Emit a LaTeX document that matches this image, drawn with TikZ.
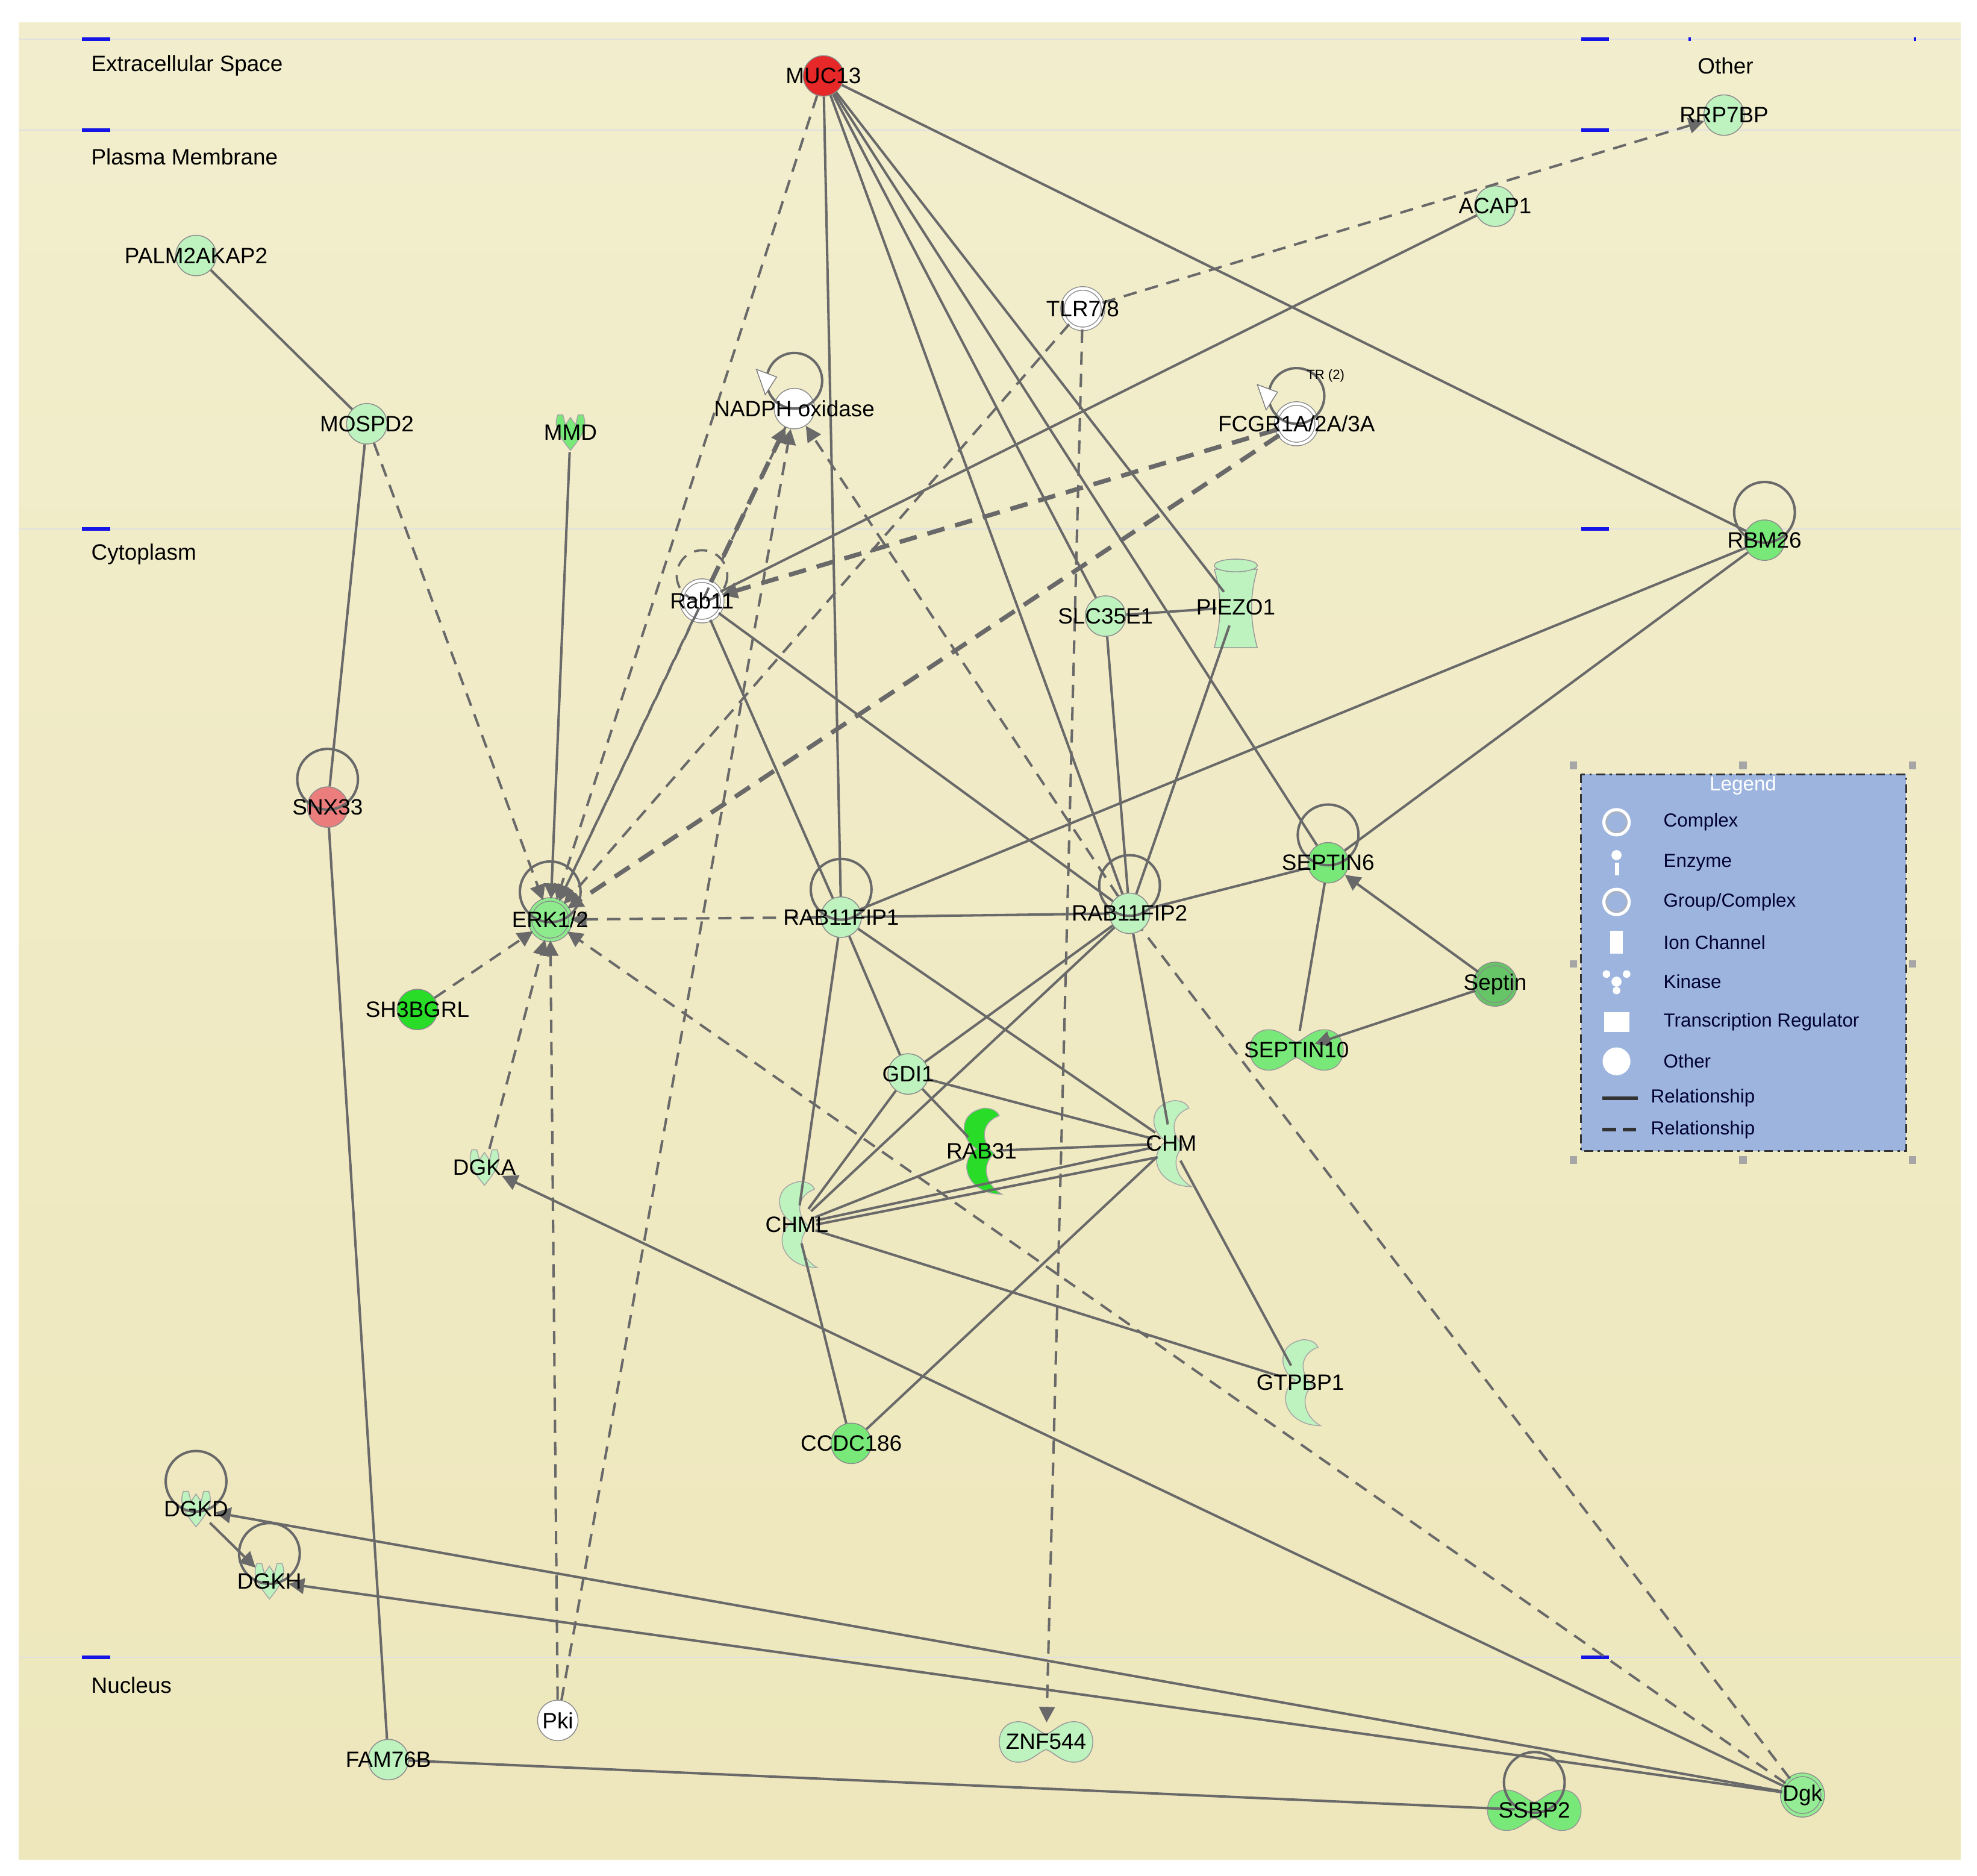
\documentclass[tikz,border=0pt]{standalone}
\usepackage{fontspec}
\setmainfont{Liberation Sans}
\usetikzlibrary{arrows.meta}
\definecolor{bg}{RGB}{238,231,188}
\definecolor{bgt}{RGB}{242,238,205}
\definecolor{lg}{RGB}{190,242,190}
\definecolor{mg}{RGB}{120,232,120}
\definecolor{bgn}{RGB}{40,220,40}
\definecolor{rd}{RGB}{230,40,40}
\definecolor{pk}{RGB}{235,125,125}
\definecolor{ed}{RGB}{105,105,105}
\definecolor{leg}{RGB}{156,180,222}
\definecolor{tick}{RGB}{20,20,230}
\newcommand{\lab}{\fontsize{10}{12}\selectfont}
\tikzset{
 x=0.02cm,y=-0.02cm,
 nd/.style={circle,minimum size=0.64cm,inner sep=0,draw=black!45,fill=#1},
 nd/.default=lg,
 cx/.style={circle,minimum size=0.64cm,inner sep=0,draw=black!45,fill=#1,double=#1,double distance=1.2pt},
 hid/.style={circle,minimum size=0.6cm,inner sep=0},
 t/.style={font=\lab,inner sep=0},
 e/.style={draw=ed,line width=1.1pt},
 d/.style={draw=ed,line width=1.1pt,dash pattern=on 6pt off 4pt},
 dd/.style={draw=ed,line width=2pt,dash pattern=on 8pt off 5pt},
 a/.style={-{Triangle[length=7pt,width=7pt]}},
 lp/.style={draw=ed,line width=1.1pt},
 comp/.style={font=\lab,anchor=west},
}
\newcommand{\kin}[3]{% x y color
 \fill[#3,draw=black!35] (#1-10,#2-14) .. controls (#1-14,#2-4) and (#1-8,#2+4) .. (#1,#2+14)
  .. controls (#1+8,#2+4) and (#1+14,#2-4) .. (#1+10,#2-14) -- (#1+6,#2-14) -- (#1+4,#2-6) -- (#1,#2-12) -- (#1-4,#2-6) -- (#1-6,#2-14) -- cycle;}
\newcommand{\enz}[3]{% x y color
 \fill[#3,draw=black!35] (#1+2,#2-34) .. controls (#1-20,#2-30) and (#1-16,#2-8) .. (#1-4,#2-2)
  .. controls (#1-20,#2+10) and (#1-10,#2+34) .. (#1+16,#2+34)
  .. controls (#1+2,#2+26) and (#1,#2+10) .. (#1+10,#2+2)
  .. controls (#1,#2-6) and (#1-2,#2-22) .. (#1+14,#2-28) .. controls (#1+12,#2-32) and (#1+8,#2-34) .. (#1+2,#2-34) -- cycle;}
\newcommand{\trg}[3]{% x y color
 \fill[#3,draw=black!40] (#1-22,#2-16) .. controls (#1-12,#2-16) and (#1-6,#2-8) .. (#1,#2-6)
  .. controls (#1+6,#2-8) and (#1+12,#2-16) .. (#1+22,#2-16)
  .. controls (#1+42,#2-16) and (#1+42,#2+16) .. (#1+22,#2+16)
  .. controls (#1+12,#2+16) and (#1+6,#2+8) .. (#1,#2+6)
  .. controls (#1-6,#2+8) and (#1-12,#2+16) .. (#1-22,#2+16)
  .. controls (#1-42,#2+16) and (#1-42,#2-16) .. (#1-22,#2-16) -- cycle;}
\begin{document}
\begin{tikzpicture}
\useasboundingbox (0,0) rectangle (1563,1483);
\fill[white] (0,0) rectangle (1563,1483);
\shade[top color=bgt,bottom color=bg] (15,18) rectangle (1550,1470);
% compartments
\foreach \yy in {31,103,418,1310}{
 \draw[black!12,line width=0.6pt] (15,\yy) -- (1550,\yy);
 \draw[tick,line width=1.6pt] (65,\yy) -- (87,\yy);
 \draw[tick,line width=1.6pt] (1250,\yy) -- (1272,\yy);}
\draw[tick,line width=1.6pt] (1335,31) -- (1337,31);
\draw[tick,line width=1.6pt] (1513,31) -- (1515,31);
\node[comp] at (66,52) {Extracellular Space};
\node[comp] at (66,124) {Plasma Membrane};
\node[comp] at (66,438) {Cytoplasm};
\node[comp] at (66,1332) {Nucleus};
\node[comp] at (1336,52) {Other};
% special shapes
\kin{451}{342}{mg}
\kin{383}{923}{lg}
\kin{155}{1193}{lg}
\kin{213}{1250}{lg}
\enz{776}{910}{bgn}
\enz{926}{904}{lg}
\enz{630}{968}{lg}
\enz{1028}{1093}{lg}
\trg{1025}{830}{mg}
\trg{827}{1377}{lg}
\trg{1213}{1431}{mg}
\fill[lg,draw=black!40] (960,450) .. controls (966,470) and (966,490) .. (960,512) -- (994,512) .. controls (988,490) and (988,470) .. (994,450) -- cycle;
\fill[lg,draw=black!40] (977,447) ellipse (17 and 5);
% nodes
\node[nd=rd] (MUC) at (651,60) {};
\node[nd] (RRP) at (1363,91) {};
\node[nd] (ACAP) at (1182,163) {};
\node[nd] (PALM) at (155,202) {};
\node[cx=white] (TLR) at (856,244) {};
\node[nd=white] (NADPH) at (628,323) {};
\node[cx=white] (FCGR) at (1025,335) {};
\node[nd] (MOSPD) at (290,335) {};
\node[hid] (MMD) at (451,342) {};
\node[cx=white] (RAB11) at (555,475) {};
\node[nd] (SLC) at (874,487) {};
\node[hid] (PIEZO) at (977,480) {};
\node[nd=mg] (RBM) at (1395,427) {};
\node[nd=pk] (SNX) at (259,638) {};
\node[cx=mg!70!lg] (ERK) at (435,727) {};
\node[nd] (FIP1) at (665,725) {};
\node[nd] (FIP2) at (893,722) {};
\node[nd=mg] (SEP6) at (1050,682) {};
\node[cx=mg!85!black] (SEPT) at (1182,778) {};
\node[hid] (SEP10) at (1025,830) {};
\node[nd=bgn] (SH3) at (330,798) {};
\node[nd] (GDI) at (718,849) {};
\node[hid] (RAB31) at (776,910) {};
\node[hid] (CHM) at (926,904) {};
\node[hid] (CHML) at (630,968) {};
\node[hid] (DGKA) at (383,923) {};
\node[hid] (GTP) at (1028,1093) {};
\node[nd=mg] (CCDC) at (673,1141) {};
\node[hid] (DGKD) at (155,1193) {};
\node[hid] (DGKH) at (213,1250) {};
\node[nd=white] (PKI) at (441,1360) {};
\node[nd] (FAM) at (307,1391) {};
\node[hid] (ZNF) at (827,1377) {};
\node[hid] (SSBP) at (1213,1431) {};
\node[cx=mg!60!lg] (DGK) at (1425,1419) {};
% self loops
\foreach \n/\r in {NADPH/22,FCGR/22,RBM/24,SNX/24,ERK/24,FIP1/24,FIP2/24,SEP6/24,DGKD/24,DGKH/24,SSBP/24}{
 \draw[lp] ([yshift=0.44cm]\n.center) circle[radius=\r];}
\draw[d,line width=1pt] ([yshift=0.4cm]RAB11.center) circle[radius=20];
\fill[white,draw=black!50] (598,292) -- (614,298) -- (605,312) -- cycle;
\fill[white,draw=black!50] (994,304) -- (1010,310) -- (1001,324) -- cycle;
\node[font=\fontsize{6}{7}\selectfont] at (1048,297) {TR (2)};
% edges: MUC13
\draw[e] (MUC) -- (FIP1);
\draw[e] (MUC) -- (FIP2);
\draw[e] (MUC) -- (SLC);
\draw[e] (MUC) -- (PIEZO);
\draw[e] (MUC) -- (SEP6);
\draw[e] (MUC) -- (RBM);
\draw[d,a] (MUC) -- (ERK);
\draw[d,a] (TLR) -- (RRP);
\draw[d,a] (TLR) -- (ZNF);
\draw[d,a] (TLR) -- (ERK);
\draw[e] (ACAP) -- (RAB11);
\draw[dd,a] (FCGR) -- (RAB11);
\draw[dd,a] (FCGR) -- (ERK);
\draw[dd,a] (RAB11) -- (NADPH);
\draw[d,a] (PKI) -- (NADPH);
\draw[d,a] (FIP2) -- (NADPH);
\draw[d,a] (NADPH) -- (ERK);
\draw[e] (PALM) -- (MOSPD);
\draw[e] (MOSPD) -- (SNX);
\draw[d,a] (MOSPD) -- (ERK);
\draw[e,a] (MMD) -- (ERK);
\draw[e] (SNX) -- (FAM);
\draw[d,a] (SH3) -- (ERK);
\draw[d,a] (DGKA) -- (ERK);
\draw[d,a] (PKI) -- (ERK);
\draw[d,a] (FIP1) -- (ERK);
\draw[d,a] (RAB11) -- (ERK);
\draw[d,a] (DGK) -- (ERK);
\draw[d] (DGK) -- (FIP2);
\draw[e,a] (DGK) -- (DGKA);
\draw[e,a] (DGK) -- (DGKD);
\draw[e,a] (DGK) -- (DGKH);
\draw[e,a] (DGKD) -- (DGKH);
\draw[e] (FAM) -- (SSBP);
\draw[e] (RAB11) -- (FIP1);
\draw[e] (RAB11) -- (FIP2);
\draw[e] (FIP1) -- (FIP2);
\draw[e] (FIP1) -- (RBM);
\draw[e] (FIP1) -- (GDI);
\draw[e] (FIP1) -- (CHML);
\draw[e] (FIP1) -- (CHM);
\draw[e] (FIP2) -- (SEP6);
\draw[e] (FIP2) -- (PIEZO);
\draw[e] (FIP2) -- (SLC);
\draw[e] (FIP2) -- (GDI);
\draw[e] (FIP2) -- (CHML);
\draw[e] (FIP2) -- (CHM);
\draw[e] (SEP6) -- (RBM);
\draw[e] (SEP6) -- (SEP10);
\draw[e,a] (SEPT) -- (SEP6);
\draw[e,a] (SEPT) -- (SEP10);
\draw[e] (SLC) -- (PIEZO);
\draw[e] (GDI) -- (CHM);
\draw[e] (GDI) -- (RAB31);
\draw[e] (GDI) -- (CHML);
\draw[e] (CHML) -- (RAB31);
\draw[e] (CHML) -- (CHM);
\draw[e] (CHML.east) -- (CHM.south west);
\draw[e] (CHML) -- (GTP);
\draw[e] (CHML) -- (CCDC);
\draw[e] (RAB31) -- (CHM);
\draw[e] (CHM) -- (GTP);
\draw[e] (CHM) -- (CCDC);
% labels
\foreach \n/\s in {MUC/MUC13,RRP/RRP7BP,ACAP/ACAP1,PALM/PALM2AKAP2,TLR/TLR7\slash 8,NADPH/NADPH oxidase,FCGR/FCGR1A\slash 2A\slash 3A,MOSPD/MOSPD2,MMD/MMD,RAB11/Rab11,SLC/SLC35E1,PIEZO/PIEZO1,RBM/RBM26,SNX/SNX33,ERK/ERK1\slash 2,FIP1/RAB11FIP1,FIP2/RAB11FIP2,SEP6/SEPTIN6,SEPT/Septin,SEP10/SEPTIN10,SH3/SH3BGRL,GDI/GDI1,RAB31/RAB31,CHM/CHM,CHML/CHML,DGKA/DGKA,GTP/GTPBP1,CCDC/CCDC186,DGKD/DGKD,DGKH/DGKH,PKI/Pki,FAM/FAM76B,ZNF/ZNF544,SSBP/SSBP2,DGK/Dgk}{
 \node[t] at (\n.center) {\s};}
% legend
\fill[leg] (1250,612) rectangle (1507,910);
\draw[black!80,line width=0.8pt,dash pattern=on 4pt off 2pt on 1pt off 2pt] (1250,612) rectangle (1507,910);
\foreach \p in {(1244,605),(1378,605),(1512,605),(1244,762),(1512,762),(1244,917),(1378,917),(1512,917)}{
 \fill[black!35] \p ++(-3,-3) rectangle ++(6,6);}
\node[font=\fontsize{9}{11}\selectfont,text=white] at (1378,621) {Legend};
\draw[white,line width=1.4pt,fill=leg] (1278,650) circle[radius=10];
\draw[black!30,line width=0.5pt] (1278,650) circle[radius=8];
\fill[white] (1278,676) circle[radius=4]; \fill[white] (1277,682) rectangle (1280,692);
\draw[white,line width=1.4pt] (1278,713) circle[radius=10];
\draw[black!30,line width=0.5pt] (1278,713) circle[radius=8];
\fill[white] (1273,736) rectangle (1283,754);
\fill[white] (1270,770) circle[radius=3]; \fill[white] (1286,770) circle[radius=3]; \fill[white] (1278,783) circle[radius=3]; \fill[white] (1278,776) circle[radius=4];
\fill[white] (1268,800) rectangle (1288,816);
\fill[white] (1278,839) circle[radius=11];
\foreach \yy/\s in {650/Complex,682/Enzyme,713/Group\slash Complex,745/Ion Channel,776/Kinase,808/Transcription Regulator,839/Other}{
 \node[font=\fontsize{8.5}{10}\selectfont,anchor=west,text=black!80!blue] at (1309,\yy) {\s};}
\draw[black!80,line width=1.6pt] (1267,868) -- (1295,868);
\draw[black!80,line width=1.6pt,dash pattern=on 6pt off 3pt] (1267,893) -- (1295,893);
\node[font=\fontsize{8.5}{10}\selectfont,anchor=west,text=black!80!blue] at (1299,868) {Relationship};
\node[font=\fontsize{8.5}{10}\selectfont,anchor=west,text=black!80!blue] at (1299,893) {Relationship};
\end{tikzpicture}
\end{document}
